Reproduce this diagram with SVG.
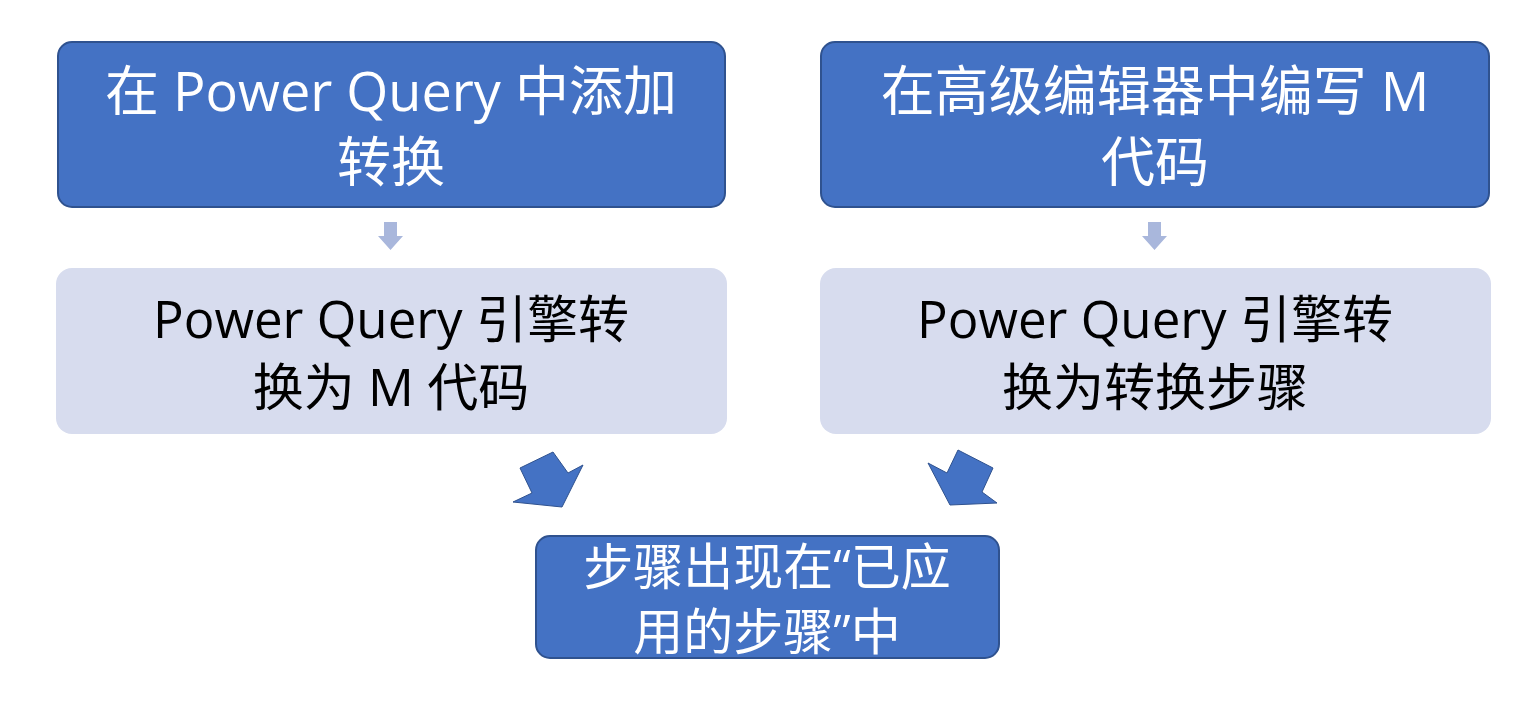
<svg xmlns="http://www.w3.org/2000/svg" width="1528" height="704" viewBox="0 0 1528 704">
<style>
.d{fill:#4472c4;stroke:#2f528f;stroke-width:2}
.l{fill:#d7dcee}
.a{fill:#4472c4;stroke:#2f528f;stroke-width:1}
.s{fill:#a9b7dc}
text{font-family:"Open Sans","Noto Sans CJK SC",sans-serif;text-anchor:middle}
.w{fill:#fff;font-size:54px}
.k{fill:#000;font-size:51px}
</style>
<rect width="1528" height="704" fill="#fff"/>
<g id="n1"><rect class="d" x="58" y="42" width="667" height="165" rx="14"/><text class="w" x="391" y="111">在 Power Query 中添加</text><text class="w" x="391" y="182">转换</text></g>
<g id="n2"><rect class="d" x="821" y="42" width="668" height="165" rx="14"/><text class="w" x="1155" y="111">在高级编辑器中编写 M</text><text class="w" x="1155" y="182">代码</text></g>
<g id="n3"><rect class="l" x="56" y="268" width="671" height="166" rx="16"/><text class="k" x="391" y="338">Power Query 引擎转</text><text class="k" x="391" y="406">换为 M 代码</text></g>
<g id="n4"><rect class="l" x="820" y="268" width="671" height="166" rx="16"/><text class="k" x="1155" y="338">Power Query 引擎转</text><text class="k" x="1155" y="406">换为转换步骤</text></g>
<g id="n5"><rect class="d" x="536" y="536" width="463" height="122" rx="14"/><text class="w" x="767" y="585" style="font-size:50px">步骤出现在“已应</text><text class="w" x="767" y="650" style="font-size:50px">用的步骤”中</text></g>
<g id="connectors">
<polygon class="s" points="384,222 397,222 397,236 403,236 390.5,250 378,236 384,236"/>
<polygon class="s" points="1148,222 1161,222 1161,236 1167,236 1154.5,250 1142,236 1148,236"/>
<polygon class="a" points="520,468 553,452 568,473 583,465 562,507 513,502 532,493"/>
<polygon class="a" points="958,450 993,468 982,492 997,503 950,505 928,463 947,473"/>
</g>
</svg>
